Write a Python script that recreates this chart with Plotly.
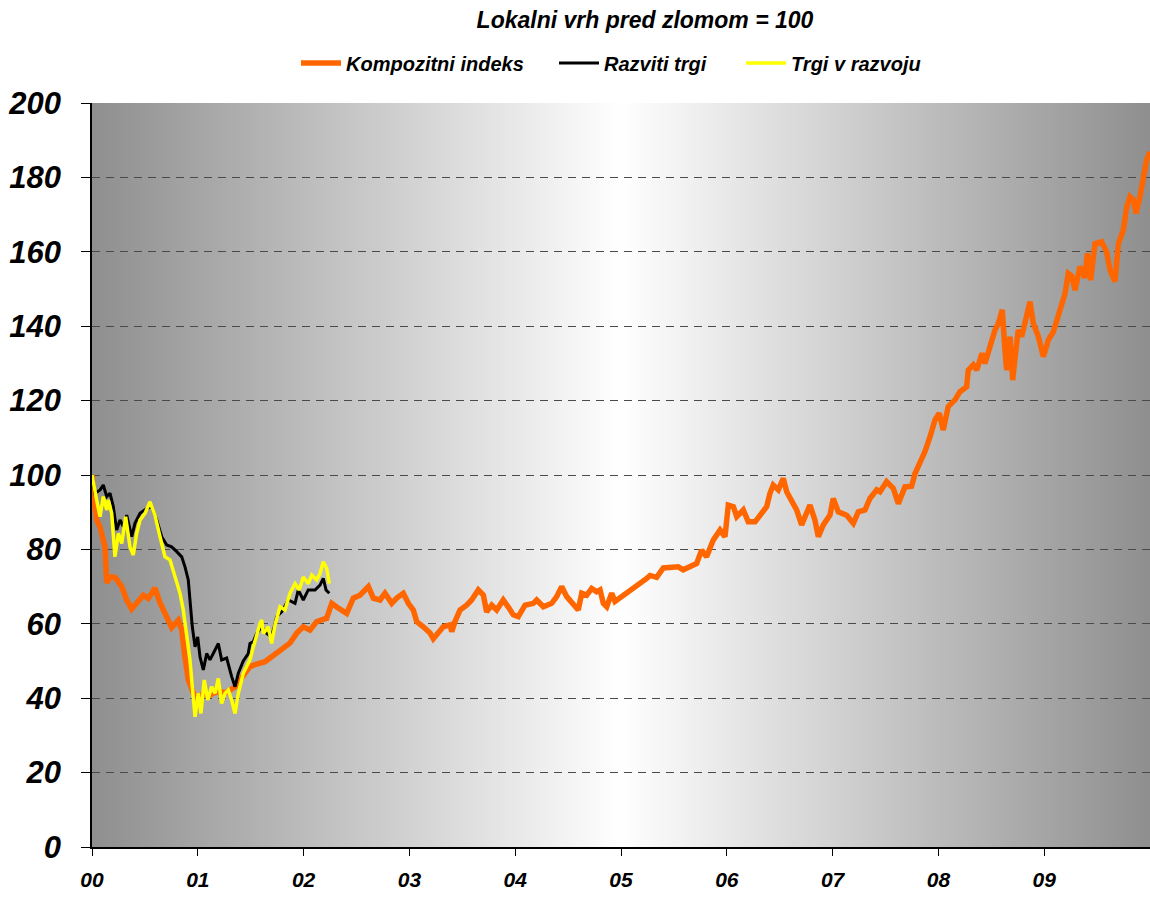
import base64
import struct
import zlib
import plotly.graph_objects as go

# ---------------- data (x = years after the local peak, y = index, peak = 100) ----------------
komp_x = [0.000, 0.009, 0.044, 0.076, 0.123, 0.139, 0.170, 0.217, 0.281, 0.328, 0.375, 0.438, 0.485,
          0.532, 0.595, 0.643, 0.706, 0.753, 0.816, 0.848, 0.879, 0.910, 0.957, 1.005, 1.052, 1.099,
          1.146, 1.210, 1.257, 1.304, 1.352, 1.399, 1.462, 1.493, 1.541, 1.588, 1.635, 1.682, 1.746,
          1.808, 1.871, 1.935, 1.997, 2.060, 2.124, 2.218, 2.266, 2.313, 2.360, 2.407, 2.470, 2.533,
          2.612, 2.659, 2.722, 2.769, 2.833, 2.880, 2.942, 2.990, 3.037, 3.069, 3.131, 3.195, 3.226,
          3.273, 3.320, 3.384, 3.400, 3.431, 3.478, 3.541, 3.588, 3.651, 3.699, 3.730, 3.778, 3.825,
          3.887, 3.935, 3.982, 4.029, 4.093, 4.171, 4.203, 4.266, 4.345, 4.392, 4.439, 4.487, 4.549,
          4.596, 4.629, 4.676, 4.723, 4.770, 4.802, 4.833, 4.865, 4.912, 4.943, 5.006, 5.085, 5.164,
          5.243, 5.274, 5.337, 5.400, 5.447, 5.541, 5.588, 5.652, 5.715, 5.762, 5.809, 5.872, 5.936,
          5.983, 6.014, 6.062, 6.094, 6.156, 6.203, 6.267, 6.314, 6.377, 6.408, 6.439, 6.487, 6.534,
          6.566, 6.613, 6.660, 6.707, 6.755, 6.786, 6.833, 6.865, 6.912, 6.975, 7.006, 7.054, 7.133,
          7.196, 7.243, 7.306, 7.353, 7.417, 7.448, 7.511, 7.574, 7.621, 7.684, 7.747, 7.779, 7.826,
          7.873, 7.921, 7.968, 8.008, 8.046, 8.093, 8.157, 8.204, 8.267, 8.282, 8.330, 8.362, 8.412,
          8.440, 8.488, 8.535, 8.566, 8.604, 8.629, 8.645, 8.677, 8.702, 8.724, 8.755, 8.787, 8.819,
          8.866, 8.897, 8.945, 8.992, 9.039, 9.087, 9.118, 9.165, 9.197, 9.228, 9.260, 9.291, 9.338,
          9.386, 9.407, 9.439, 9.480, 9.543, 9.590, 9.622, 9.669, 9.701, 9.748, 9.780, 9.811, 9.842,
          9.868, 9.905, 9.937, 9.968, 10.000]
komp_y = [100, 96, 88, 86, 80.6, 71, 72.6, 72.5, 70, 66.4, 64, 66.4, 67.7,
          66.8, 69.6, 65.6, 61.8, 59, 61, 58.3, 51, 44.9, 41.4, 39.5, 41.4, 40.5,
          41.4, 41.8, 41.4, 42.2, 43, 44.9, 47.6, 48.5, 49, 49.5, 49.8, 50.8, 52.1,
          53.5, 54.8, 57.5, 59.2, 58.3, 60.6, 61.5, 65.5, 64.5, 63.7, 62.8, 66.9, 67.7,
          70, 66.9, 66.4, 68.2, 65.5, 66.9, 68.2, 65.5, 63.7, 60.6, 59.2, 57.5, 56,
          57.5, 59.2, 59.7, 57.9, 60.6, 63.7, 65, 66.4, 69.1, 67.7, 63.2, 65, 63.7,
          66.4, 64.5, 62.4, 61.9, 65, 65.5, 66.4, 64.6, 65.5, 67.3, 70, 67.3, 65.5,
          63.7, 68.2, 67.7, 69.5, 68.6, 69.1, 65.5, 64.6, 68.2, 66, 67.3, 68.6, 70.4,
          72.2, 73, 72.5, 75, 75, 75.3, 74.5, 75.3, 76.2, 79.8, 78, 82.5, 85.2,
          83.4, 91.9, 91.5, 88.8, 90.6, 87.4, 87.4, 89.2, 91.5, 95.1, 97.3, 96, 99.1,
          95.5, 93.3, 90.6, 86.6, 89.8, 91.9, 87.9, 83.4, 86.6, 89.2, 93.7, 90.1, 89.2,
          87, 90.1, 90.6, 93.7, 96, 95.5, 98.2, 96.4, 92.3, 96.8, 97, 100.4, 103.1,
          106.3, 110.3, 114.8, 116.6, 112.1, 118.4, 120.2, 122.4, 123.7, 128.2, 129.6, 128.2, 132.7,
          130, 134.9, 139, 140.7, 144.4, 133.6, 128.2, 137.2, 125.5, 131.4, 139, 137.2, 141.7,
          146.6, 140.7, 137.2, 131.8, 136.3, 138.5, 141.7, 146, 148.8, 154.2, 153.5, 149.7, 156,
          153, 159.6, 152.4, 162.2, 162.7, 160, 155.1, 152, 162.2, 165.8, 172.1, 174.8, 174,
          170.3, 174.8, 179.3, 184.7, 186.9]

razviti_x = [0.000, 0.028, 0.076, 0.107, 0.139, 0.170, 0.201, 0.233, 0.265, 0.296, 0.328, 0.375, 0.406,
             0.454, 0.517, 0.564, 0.612, 0.659, 0.706, 0.753, 0.801, 0.848, 0.879, 0.910, 0.926, 0.948,
             0.974, 0.999, 1.021, 1.052, 1.084, 1.115, 1.146, 1.194, 1.225, 1.273, 1.320, 1.352, 1.383,
             1.430, 1.477, 1.493, 1.525, 1.556, 1.604, 1.651, 1.698, 1.746, 1.793, 1.855, 1.919, 1.950,
             1.997, 2.044, 2.108, 2.155, 2.186, 2.212, 2.243]
razviti_y = [100, 95.1, 96, 97.3, 94.2, 95.1, 91.5, 85.2, 87.9, 86.1, 89.2, 83.4, 87,
             89.7, 91, 91.5, 87.9, 83.4, 81.2, 80.7, 79.4, 78, 75.3, 71.8, 66.4, 59.2,
             53.8, 56.5, 51.1, 47.6, 52, 50.3, 52, 54.7, 50.3, 50.8, 45.8, 43.1, 46.7,
             50, 52, 54.7, 55.2, 57.4, 59.2, 57.4, 56.5, 61.9, 63.2, 66.4, 65.5, 69.1,
             66.4, 69.1, 69.1, 70.4, 72.2, 69.1, 68.2]

razvoj_x = [0.000, 0.022, 0.044, 0.076, 0.107, 0.139, 0.154, 0.186, 0.217, 0.249, 0.281, 0.318, 0.359,
            0.390, 0.422, 0.454, 0.501, 0.548, 0.595, 0.643, 0.690, 0.737, 0.784, 0.832, 0.863, 0.895,
            0.926, 0.948, 0.974, 1.005, 1.030, 1.061, 1.094, 1.131, 1.163, 1.194, 1.225, 1.257, 1.288,
            1.320, 1.352, 1.383, 1.430, 1.462, 1.493, 1.525, 1.541, 1.572, 1.588, 1.604, 1.620, 1.666,
            1.698, 1.730, 1.777, 1.824, 1.871, 1.919, 1.959, 1.997, 2.044, 2.077, 2.124, 2.155, 2.186,
            2.218, 2.243]
razvoj_y = [100, 96, 93.3, 88.8, 94.2, 90.6, 93.3, 89.7, 78, 84.3, 81.6, 88.8, 80.7,
            78.5, 84.3, 87.9, 89.7, 92.8, 89.2, 83.4, 78, 77.2, 72.7, 68.2, 63.7, 56.5,
            50.3, 43.1, 35, 41.3, 35.9, 44.9, 39.5, 43.1, 41.3, 45.3, 38.6, 41.3, 42.2,
            39.5, 35.9, 41.3, 46.7, 48.5, 50.3, 53.8, 55.6, 58.3, 60.1, 61, 57.4, 59.2,
            54.7, 59.7, 64.6, 63.7, 68.2, 70.8, 69.1, 72.6, 70.8, 73.1, 71.8, 73.5, 76.7,
            74.9, 70.8]

x_tickvals = [0, 1, 2, 3, 4, 5, 6, 7, 8, 9]
x_ticktext = ["00", "01", "02", "03", "04", "05", "06", "07", "08", "09"]
y_tickvals = [0, 20, 40, 60, 80, 100, 120, 140, 160, 180, 200]

title_text = "Lokalni vrh pred zlomom = 100"
series_names = ["Kompozitni indeks", "Razviti trgi", "Trgi v razvoju"]


# ---------------- background gradient (grey - white - grey) as a tiny PNG ----------------
def gradient_png(width=512, edge=143):
    rows = b""
    for _ in range(2):
        row = bytearray([0])
        for i in range(width):
            t = i / (width - 1)
            g = int(round(255 - (255 - edge) * abs(2 * t - 1)))
            row.append(g)
        rows += bytes(row)

    def chunk(tag, data):
        c = struct.pack(">I", len(data)) + tag + data
        return c + struct.pack(">I", zlib.crc32(tag + data) & 0xFFFFFFFF)

    png = b"\x89PNG\r\n\x1a\n"
    png += chunk(b"IHDR", struct.pack(">IIBBBBB", width, 2, 8, 0, 0, 0, 0))
    png += chunk(b"IDAT", zlib.compress(rows, 9))
    png += chunk(b"IEND", b"")
    return "data:image/png;base64," + base64.b64encode(png).decode()


FONT = "Liberation Sans, Arial, sans-serif"
LEG_FONT = dict(family=FONT, size=20, weight="bold", style="italic", color="black")

# plot area: x 92..1150 px, y 103..847 px
PLOT_L, PLOT_W, PLOT_T, PLOT_H = 92, 1058, 103, 744


def leg(px_left):
    return dict(orientation="h", x=(px_left - PLOT_L) / PLOT_W, xanchor="left",
                y=1 + (PLOT_T - 63) / PLOT_H, yanchor="middle",
                font=LEG_FONT, bgcolor="rgba(0,0,0,0)", itemwidth=40, borderwidth=0)


fig = go.Figure()
fig.add_trace(go.Scatter(x=komp_x, y=komp_y, mode="lines", name=series_names[0],
                         line=dict(color="#FF6600", width=5.5), legend="legend"))
fig.add_trace(go.Scatter(x=razviti_x, y=razviti_y, mode="lines", name=series_names[1],
                         line=dict(color="#000000", width=3), legend="legend2"))
fig.add_trace(go.Scatter(x=razvoj_x, y=razvoj_y, mode="lines", name=series_names[2],
                         line=dict(color="#FFFF00", width=3.5), legend="legend3"))

fig.update_layout(
    width=1150, height=898,
    margin=dict(l=92, r=0, t=103, b=51),
    paper_bgcolor="white",
    plot_bgcolor="rgba(0,0,0,0)",
    font=dict(family=FONT, color="black"),
    title=dict(text=title_text, x=645 / 1150, xanchor="center", y=1 - 20 / 898, yanchor="middle",
               font=dict(family=FONT, size=23, weight="bold", style="italic", color="black")),
    showlegend=True,
    legend=leg(296),
    legend2=leg(554),
    legend3=leg(741),
    images=[dict(source=gradient_png(), xref="paper", yref="paper", x=0, y=1, sizex=1, sizey=1,
                 xanchor="left", yanchor="top", sizing="stretch", layer="below")],
)

fig.update_xaxes(range=[0, 10], tickvals=x_tickvals, ticktext=x_ticktext,
                 showgrid=False, zeroline=False, showline=True, linecolor="black", linewidth=1.5,
                 ticks="outside", ticklen=7, tickcolor="black", tickwidth=1,
                 ticklabelstandoff=6,
                 tickfont=dict(family=FONT, size=21, weight="bold", style="italic", color="black"))
fig.update_yaxes(range=[0, 200], tickvals=y_tickvals,
                 showgrid=True, gridcolor="#4a4a4a", gridwidth=1, griddash="8px,6px",
                 zeroline=False, showline=True, linecolor="black", linewidth=1.5,
                 ticks="outside", ticklen=9, tickcolor="black", tickwidth=1,
                 ticklabelstandoff=14,
                 tickfont=dict(family=FONT, size=31, weight="bold", style="italic", color="black"))

fig.write_html("out.html", config={"displayModeBar": False},
               post_script="document.body.style.margin='0px';document.body.style.overflow='hidden';")
